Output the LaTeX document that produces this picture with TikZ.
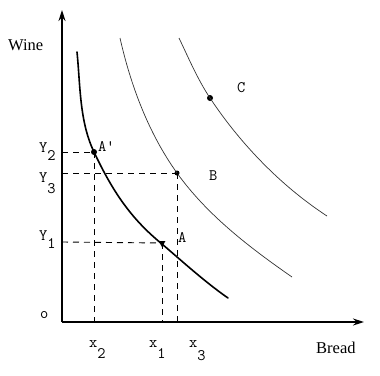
\documentclass[tikz,border=0pt]{standalone}
\usepackage{fontspec}
\setmainfont{Liberation Serif}
\usetikzlibrary{arrows.meta,shapes.geometric}
\newcommand{\tsub}[3][9pt]{#2\raisebox{-#1}{#3}}
\begin{document}
\begin{tikzpicture}[x=1pt,y=-1pt,
  axis/.style={line width=1.5pt,-{Stealth[length=11pt,width=7pt]}},
  curveA/.style={line width=1.6pt,line cap=round},
  curveB/.style={line width=0.7pt,black!80},
  guide/.style={dashed,dash pattern=on 6pt off 5pt,line width=0.9pt},
  dot/.style={circle,fill,inner sep=0pt,minimum size=6pt},
  tri/.style={regular polygon,regular polygon sides=3,shape border rotate=180,fill,inner sep=0pt,minimum size=8pt},
  mono/.style={font=\ttfamily\fontsize{16}{16}\selectfont,inner sep=0pt,anchor=base west},
  word/.style={font=\fontsize{16.5}{17}\selectfont,inner sep=0pt,anchor=base west}]
\useasboundingbox (0,0) rectangle (380,375);
% axes
\coordinate (O) at (62,322);
\coordinate (Ytop) at (62,10);
\coordinate (Xend) at (364,322);
\draw[axis] (O) -- (Ytop);
\draw[axis] (O) -- (Xend);
% points
\node[dot] (Ap) at (94,152) {};
\node[dot,minimum size=5pt] (B) at (177,173) {};
\node[dot] (C) at (210,98) {};
\node[tri] (A) at (162,243) {};
% curves
\coordinate (a0) at (77,52);
\coordinate (a3) at (228,298);
\draw[curveA] (a0) .. controls (80.4,86) and (79.4,121.4) .. (Ap.center)
  .. controls (112,190) and (130,218) .. (162,244)
  .. controls (183.3,262.2) and (205,282) .. (a3);
\coordinate (b0) at (120,38);
\coordinate (b2) at (292,277);
\draw[curveB] (b0) .. controls (130.8,85.8) and (148.6,133.3) .. (B.center)
  .. controls (207.2,215.1) and (249.4,247.4) .. (b2);
\coordinate (c0) at (179,38);
\coordinate (c2) at (327,216);
\draw[curveB] (c0) .. controls (188.7,58.3) and (197.6,79.3) .. (C.center)
  .. controls (240.3,143.7) and (281,186) .. (c2);
% foot coordinates
\coordinate (y2) at (62,152);
\coordinate (y3) at (62,173);
\coordinate (y1) at (62,242);
\coordinate (x2) at (94,322);
\coordinate (x1) at (162,322);
\coordinate (x3) at (177,322);
% guides
\draw[guide] (y2) -- (Ap.center);
\draw[guide] (y3) -- (B.center);
\draw[guide] (y1) -- (A.center);
\draw[guide] (Ap.center) -- (x2);
\draw[guide] (A.center) -- (x1);
\draw[guide] (B.center) -- (x3);
% labels
\node[word] (wine) at (8,50) {Wine};
\node[word] (bread) at (316,353) {Bread};
\node[mono] (lo) at (40,318) {o};
\node[mono] (lY2) at (39,152) {\tsub[8pt]{Y}{2}};
\node[mono] (lY3) at (39,182) {\tsub[11pt]{Y}{3}};
\node[mono] (lY1) at (39,240) {\tsub[8pt]{Y}{1}};
\node[mono] (lx2) at (89,347) {\tsub[11pt]{x}{2}};
\node[mono] (lx1) at (149,347) {\tsub[11pt]{x}{1}};
\node[mono] (lx3) at (189,347) {\tsub[13pt]{x}{3}};
\node[mono] (lAp) at (98,151) {A\textquotesingle};
\node[mono] (lA) at (178,242) {A};
\node[mono] (lB) at (209,180) {B};
\node[mono] (lC) at (237,92) {C};
\end{tikzpicture}
\end{document}
